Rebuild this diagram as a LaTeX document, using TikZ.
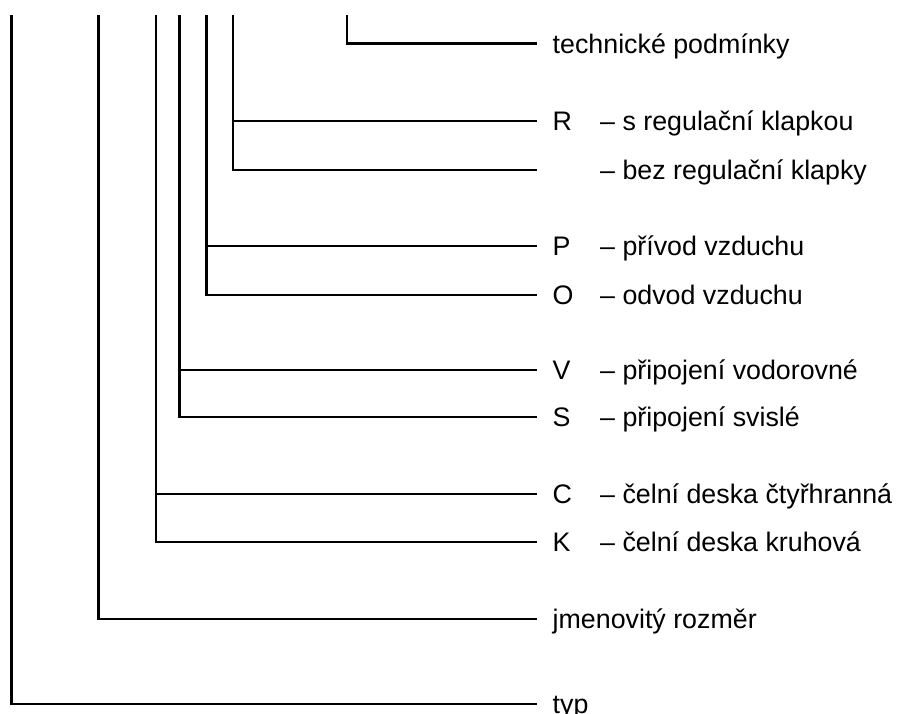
\documentclass[tikz,border=0pt]{standalone}
\usepackage{fontspec}
\setmainfont{Liberation Sans}
\begin{document}
\begin{tikzpicture}[x=1pt,y=-1pt,
  conn/.style={line width=2.6pt,line join=miter,black},
  lbl/.style={anchor=base west,inner sep=0pt,font=\fontsize{26.8}{30}\selectfont}]
\useasboundingbox (0,0) rectangle (897,713);
% top coordinates of the vertical lines
\coordinate (tTyp) at (11.5,15);
\coordinate (tJm) at (98.5,15);
\coordinate (tCK) at (156,15);
\coordinate (tVS) at (179.5,15);
\coordinate (tPO) at (206.5,15);
\coordinate (tR) at (233,15);
\coordinate (tTech) at (347,15);
% line ends
\coordinate (eTech) at (537,43.5);
\coordinate (eR) at (537,121);
\coordinate (eB) at (537,170);
\coordinate (eP) at (537,246);
\coordinate (eO) at (537,295);
\coordinate (eV) at (537,370);
\coordinate (eS) at (537,417);
\coordinate (eC) at (537,494);
\coordinate (eK) at (537,542);
\coordinate (eJm) at (537,619);
\coordinate (eTyp) at (537,704);
% labels
\node[lbl] (lTech) at (552.5,53) {technické podmínky};
\node[lbl] (lR) at (552.5,130.5) {R};
\node[lbl] (dR) at (600,130.5) {– s regulační klapkou};
\node[lbl] (dB) at (600,179.5) {– bez regulační klapky};
\node[lbl] (lP) at (552.5,255.5) {P};
\node[lbl] (dP) at (600,255.5) {– přívod vzduchu};
\node[lbl] (lO) at (552.5,304.5) {O};
\node[lbl] (dO) at (600,304.5) {– odvod vzduchu};
\node[lbl] (lV) at (552.5,379.5) {V};
\node[lbl] (dV) at (600,379.5) {– připojení vodorovné};
\node[lbl] (lS) at (552.5,426.5) {S};
\node[lbl] (dS) at (600,426.5) {– připojení svislé};
\node[lbl] (lC) at (552.5,503.5) {C};
\node[lbl] (dC) at (600,503.5) {– čelní deska čtyřhranná};
\node[lbl] (lK) at (552.5,551.5) {K};
\node[lbl] (dK) at (600,551.5) {– čelní deska kruhová};
\node[lbl] (lJm) at (552.5,628.5) {jmenovitý rozměr};
\node[lbl] (lTyp) at (552.5,713.5) {typ};
% connectors
\draw[conn] (tTech) |- (eTech);
\draw[conn] (tR) |- (eB);
\draw[conn] (tR |- eR) -- (eR);
\draw[conn] (tPO) |- (eO);
\draw[conn] (tPO |- eP) -- (eP);
\draw[conn] (tVS) |- (eS);
\draw[conn] (tVS |- eV) -- (eV);
\draw[conn] (tCK) |- (eK);
\draw[conn] (tCK |- eC) -- (eC);
\draw[conn] (tJm) |- (eJm);
\draw[conn] (tTyp) |- (eTyp);
\end{tikzpicture}
\end{document}
